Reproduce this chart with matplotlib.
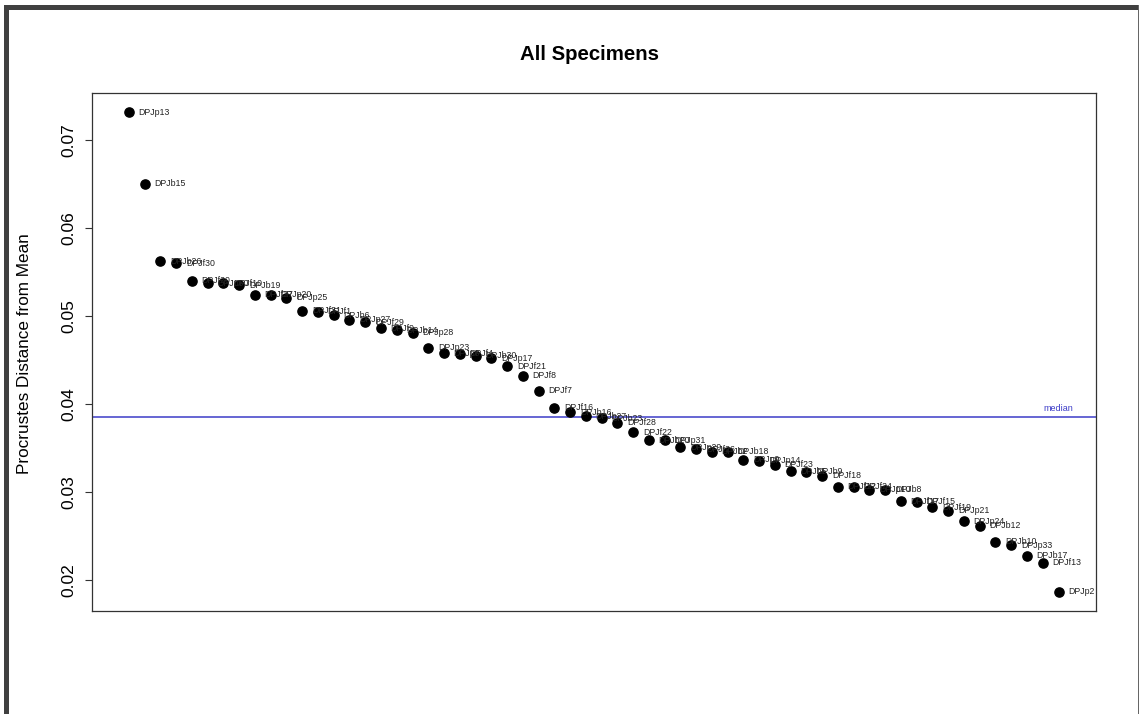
import matplotlib
matplotlib.use("Agg")
import matplotlib.pyplot as plt
from matplotlib.patches import Rectangle
import numpy as np

plt.rcParams['font.family'] = ['Liberation Sans', 'DejaVu Sans']

# specimen names, sorted by distance (largest first)
specimens = [
    "DPJp13", "DPJb15", "DPJb26", "DPJf30", "DPJf20", "DPJp30", "DPJf10", "DPJb19",
    "DPJf27", "DPJp20", "DPJp25", "DPJf31", "DPJf1", "DPJb6", "DPJp27", "DPJf29",
    "DPJf9", "DPJb14", "DPJp28", "DPJp23", "DPJp8", "DPJf4", "DPJb30", "DPJp17",
    "DPJf21", "DPJf8", "DPJf7", "DPJf16", "DPJb16", "DPJb27", "DPJb23", "DPJf28",
    "DPJf22", "DPJb20", "DPJp31", "DPJp29", "DPJf26", "DPJb2", "DPJb18", "DPJp9",
    "DPJp14", "DPJf23", "DPJb5", "DPJb9", "DPJf18", "DPJf12", "DPJf24", "DPJp10",
    "DPJb8", "DPJf17", "DPJf15", "DPJf19", "DPJp21", "DPJp24", "DPJb12", "DPJb10",
    "DPJp33", "DPJb17", "DPJf13", "DPJp2",
]

# procrustes distance from mean
distance = [
    0.0731, 0.0650, 0.0562, 0.0560, 0.0540, 0.0537, 0.0537, 0.0535,
    0.0524, 0.0524, 0.0521, 0.0506, 0.0505, 0.0501, 0.0496, 0.0493,
    0.0486, 0.0484, 0.0481, 0.0464, 0.0458, 0.0457, 0.0455, 0.0452,
    0.0443, 0.0432, 0.0415, 0.0396, 0.0391, 0.0386, 0.0384, 0.0379,
    0.0368, 0.0359, 0.0359, 0.0351, 0.0349, 0.0346, 0.0346, 0.0337,
    0.0336, 0.0331, 0.0324, 0.0323, 0.0319, 0.0306, 0.0306, 0.0303,
    0.0303, 0.0290, 0.0289, 0.0283, 0.0279, 0.0267, 0.0262, 0.0244,
    0.0240, 0.0228, 0.0220, 0.0187,
]

yticks = [0.02, 0.03, 0.04, 0.05, 0.06, 0.07]

W, H = 1139, 714
fig = plt.figure(figsize=(W / 100, H / 100), dpi=100)
ax = fig.add_axes([91.7 / W, 1 - 611 / H, (1095.7 - 91.7) / W, (611 - 93.3) / H])

idx = np.arange(1, len(distance) + 1)
ax.scatter(idx, distance, s=44, color='black', zorder=3)
for i, name in enumerate(specimens):
    ax.annotate(name, (idx[i], distance[i]), xytext=(7, 0), textcoords='offset points',
                va='center', ha='left', fontsize=6.3, color='#222222')

med = np.median(distance)
ax.axhline(med, color='#3c3cc8', lw=1.1, zorder=2)
ax.annotate("median", (idx[-1], med), xytext=(0, 3), textcoords='offset points',
            ha='center', va='bottom', fontsize=6.5, color='#3c3cc8')

ax.margins(x=0.04, y=0.04)
ax.set_xticks([])
ax.set_yticks(yticks)
ax.set_yticklabels(["%.2f" % t for t in yticks], rotation=90, va='center', fontsize=12.5)
ax.tick_params(axis='y', length=5, width=0.8, pad=6, color='#333333')
ax.set_ylabel("Procrustes Distance from Mean", fontsize=12.3)
ax.yaxis.set_label_coords((32 - 91.7) / 1004, 0.497)
for sp in ax.spines.values():
    sp.set_linewidth(0.9)
    sp.set_color('#333333')

fig.text(590 / W, 1 - 54 / H, "All Specimens", ha='center', va='center',
         fontsize=14.7, fontweight='bold')

# outer frame of the screenshot
frame = '#404040'
fig.add_artist(Rectangle((4 / W, 1 - 10 / H), 1 - 4 / W, 5 / H, transform=fig.transFigure,
                         color=frame, lw=0))
fig.add_artist(Rectangle((4 / W, 0), 4.5 / W, 1 - 5 / H, transform=fig.transFigure,
                         color=frame, lw=0))
fig.add_artist(Rectangle((1 - 1.5 / W, 0), 1.5 / W, 1 - 5 / H, transform=fig.transFigure,
                         color='#666666', lw=0))

fig.savefig("out.png", dpi=100)
